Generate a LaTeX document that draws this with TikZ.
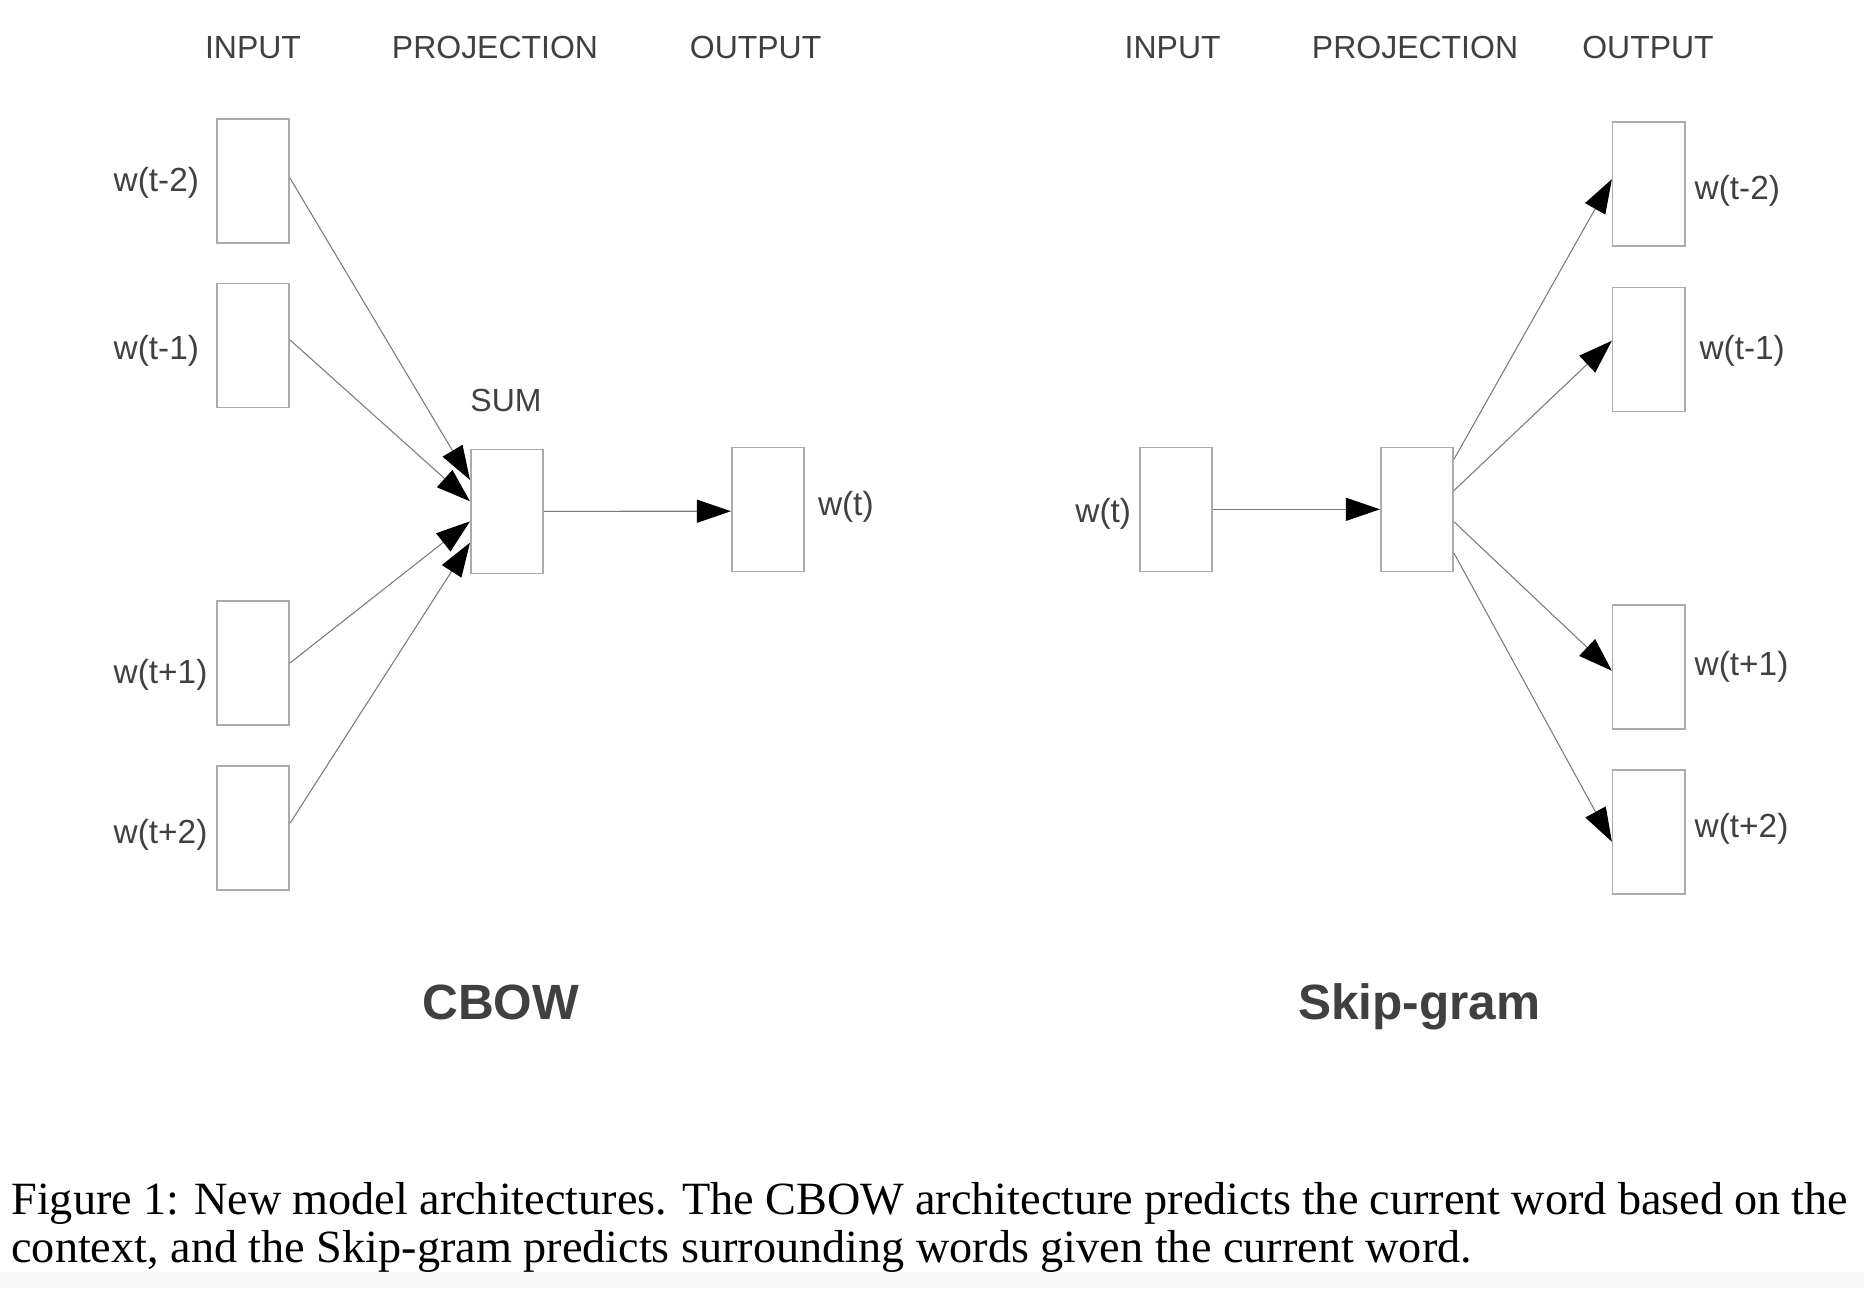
\documentclass[tikz,border=0pt]{standalone}
\usepackage{fontspec}
\setmainfont{Liberation Serif}
\newfontfamily\arialf{Liberation Sans}
\usetikzlibrary{arrows.meta,calc}
\definecolor{txt}{HTML}{404040}
\definecolor{boxc}{HTML}{ABABAB}
\definecolor{linec}{HTML}{7A7A7A}
\definecolor{band}{HTML}{F6F6F6}
\begin{document}
\begin{tikzpicture}[x=0.1mm,y=-0.1mm,
 wbox/.style={draw=boxc,line width=0.45pt,minimum width=7.25mm,minimum height=12.4mm,inner sep=0pt,fill=white},
 hdr/.style={font=\arialf\fontsize{9.1}{11}\selectfont,text=txt,inner sep=0pt},
 lbl/.style={font=\arialf\fontsize{9.5}{11}\selectfont,text=txt,inner sep=0pt,anchor=west},
 ttl/.style={font=\arialf\bfseries\fontsize{14.1}{16}\selectfont,text=txt,inner sep=0pt,anchor=base},
 conn/.style={draw=linec,line width=0.3pt,-{Triangle[length=3.4mm,width=2.3mm,color=black,fill=black]}},
 captext/.style={font=\fontsize{13.15}{15}\selectfont,inner sep=0pt,anchor=base west}]
\fill[white] (0,0) rectangle (1864,1288);
\fill[band] (0,1272) rectangle (1864,1288);
\useasboundingbox (0,0) rectangle (1864,1288);

% ---------- CBOW ----------
\node[hdr] (hinL) at (253,47.2) {INPUT};
\node[hdr] (hprL) at (495,47.2) {PROJECTION};
\node[hdr] (houL) at (755.6,47.2) {OUTPUT};

\node[wbox] (cin1) at (253,180.7) {};
\node[wbox] (cin2) at (253,345.6) {};
\node[wbox] (cin3) at (253,662.9) {};
\node[wbox] (cin4) at (253,828.2) {};
\node[lbl] (lcin1) at (113,182.8) {w(t-2)};
\node[lbl] (lcin2) at (113,351.2) {w(t-1)};
\node[lbl] (lcin3) at (113,674.8) {w(t+1)};
\node[lbl] (lcin4) at (113,835) {w(t+2)};

\node[wbox] (sum) at (507,511.3) {};
\node[hdr] (lsum) at (506,400.4) {SUM};
\node[wbox] (cout) at (768,509.3) {};
\node[lbl] (lcout) at (817.3,507.2) {w(t)};

\draw[conn] ($(cin1.north east)!0.48!(cin1.south east)$) -- ($(sum.north west)!0.25!(sum.south west)$);
\draw[conn] ($(cin2.north east)!0.455!(cin2.south east)$) -- ($(sum.north west)!0.42!(sum.south west)$);
\draw[conn] ($(cin3.north east)!0.5!(cin3.south east)$) -- ($(sum.north west)!0.58!(sum.south west)$);
\draw[conn] ($(cin4.north east)!0.46!(cin4.south east)$) -- ($(sum.north west)!0.75!(sum.south west)$);
\draw[conn] ($(sum.north east)!0.5!(sum.south east)$) -- ($(cout.north west)!0.515!(cout.south west)$);

\node[ttl] (tcbow) at (500.8,1019.8) {CBOW};

% ---------- Skip-gram ----------
\node[hdr] (hinR) at (1172.7,47.2) {INPUT};
\node[hdr] (hprR) at (1415,47.2) {PROJECTION};
\node[hdr] (houR) at (1648,47.2) {OUTPUT};

\node[wbox] (sin) at (1176,509.3) {};
\node[lbl] (lsin) at (1074.7,513.4) {w(t)};
\node[wbox] (proj) at (1417,509.3) {};

\node[wbox] (sout1) at (1648.9,184.2) {};
\node[wbox] (sout2) at (1648.9,349.5) {};
\node[wbox] (sout3) at (1648.9,667) {};
\node[wbox] (sout4) at (1648.9,831.7) {};
\node[lbl] (lsout1) at (1694,191) {w(t-2)};
\node[lbl] (lsout2) at (1698.8,351.2) {w(t-1)};
\node[lbl] (lsout3) at (1694,666.6) {w(t+1)};
\node[lbl] (lsout4) at (1694,828.8) {w(t+2)};

\draw[conn] ($(sin.north east)!0.5!(sin.south east)$) -- (proj.west);
\draw[conn] ($(proj.north east)!0.10!(proj.south east)$) -- ($(sout1.north west)!0.46!(sout1.south west)$);
\draw[conn] ($(proj.north east)!0.35!(proj.south east)$) -- ($(sout2.north west)!0.43!(sout2.south west)$);
\draw[conn] ($(proj.north east)!0.60!(proj.south east)$) -- ($(sout3.north west)!0.53!(sout3.south west)$);
\draw[conn] ($(proj.north east)!0.85!(proj.south east)$) -- ($(sout4.north west)!0.58!(sout4.south west)$);

\node[ttl] (tskip) at (1419.4,1019.8) {Skip-gram};

% ---------- caption ----------
\node[captext] (cap1) at (10.7,1214) {\makebox[183.67mm][s]{Figure 1: New model architectures. The CBOW architecture predicts the current word based on the}};
\node[captext] (cap2) at (10.7,1262) {context, and the Skip-gram predicts surrounding words given the current word.};
\end{tikzpicture}
\end{document}
